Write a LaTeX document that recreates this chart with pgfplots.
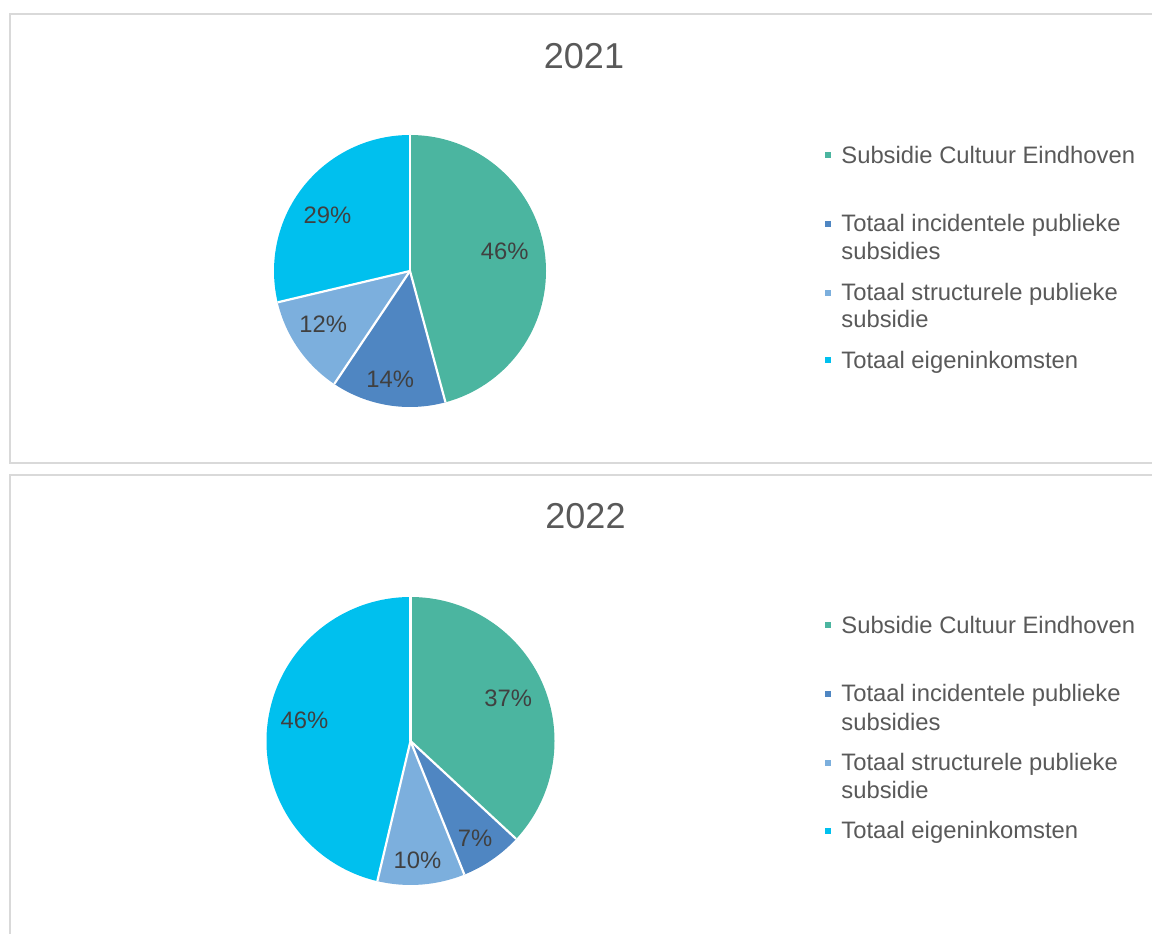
\documentclass[border=0pt]{standalone}
\usepackage{pgfplots}
\pgfplotsset{compat=1.18}
\usepackage{pgfplotstable}
\usepackage{fontspec}
\setmainfont{Liberation Sans}

\definecolor{cEhv}{HTML}{4BB5A0}
\definecolor{cInc}{HTML}{4F86C2}
\definecolor{cStr}{HTML}{7CAFDD}
\definecolor{cEig}{HTML}{00C0EE}
\colorlet{slice0}{cEhv}
\colorlet{slice1}{cInc}
\colorlet{slice2}{cStr}
\colorlet{slice3}{cEig}
\definecolor{lblgray}{HTML}{404040}
\definecolor{txtgray}{HTML}{595959}
\definecolor{framegray}{HTML}{D9D9D9}

% share in percent; label distance (fraction of radius) and angle shift
\pgfplotstableread{
share lbl dang
45.8 0.71  4
13.6 0.81 -1
11.9 0.75 -3
28.7 0.73  4.5
}\tblA
\pgfplotstableread{
share lbl dang
36.9 0.74  0
7.0 0.81  -1
9.8 0.83  -1
46.3 0.75 -4.5
}\tblB

% slice angles (clockwise from 12 o'clock), stored globally per prefix
\newcommand\prepie[2]{%
  \def\cum{0}%
  \pgfplotsforeachungrouped \i in {0,...,3}{%
    \pgfplotstablegetelem{\i}{share}\of#1\let\shr\pgfplotsretval
    \pgfplotstablegetelem{\i}{lbl}\of#1\let\fr\pgfplotsretval
    \pgfplotstablegetelem{\i}{dang}\of#1\let\dang\pgfplotsretval
    \pgfmathsetmacro\angS{90-3.6*\cum}%
    \pgfmathsetmacro\cum{\cum+\shr}%
    \pgfmathsetmacro\angE{90-3.6*\cum}%
    \pgfmathsetmacro\angM{(\angS+\angE)/2+\dang}%
    \pgfmathtruncatemacro\pc{round(\shr)}%
    \expandafter\xdef\csname#2a\i\endcsname{\angS}%
    \expandafter\xdef\csname#2b\i\endcsname{\angE}%
    \expandafter\xdef\csname#2m\i\endcsname{\angM}%
    \expandafter\xdef\csname#2f\i\endcsname{\fr}%
    \expandafter\xdef\csname#2p\i\endcsname{\pc}%
  }%
}
\prepie{\tblA}{pA}
\prepie{\tblB}{pB}

\newcommand\lblfont{\fontsize{11.9}{14}\selectfont}

\newcommand\drawpie[2]{%
  \pgfplotsinvokeforeach{0,...,3}{%
    \fill[slice##1] (axis cs:0,0) -- ++({\csname#1a##1\endcsname}:#2)
      arc[start angle=\csname#1a##1\endcsname, end angle=\csname#1b##1\endcsname, radius=#2] -- cycle;
  }%
  \pgfplotsinvokeforeach{0,...,3}{%
    \draw[white, line width=1.1pt] (axis cs:0,0) -- ++({\csname#1a##1\endcsname}:#2);
  }%
  \pgfplotsinvokeforeach{0,...,3}{%
    \path (axis cs:0,0) ++({\csname#1m##1\endcsname}:{\csname#1f##1\endcsname*#2})
      node[lblgray, font=\lblfont, inner sep=0pt] {\csname#1p##1\endcsname\%};
  }%
}

% legend: baseline (image px from top), colour, text
\newcommand\legline[2]{\node[txtgray, font=\lblfont, inner sep=0pt, anchor=base west] at (841,{933-(#1)}) {#2};}
\newcommand\legkey[2]{\fill[#2] (824.5,{933-(#1)+3}) rectangle ++(6,-6);}

\newcommand\legendblock[1]{% #1 = vertical offset in px
  \legkey{155.5+#1}{cEhv}\legline{163.3+#1}{Subsidie Cultuur Eindhoven}
  \legkey{224+#1}{cInc}\legline{231.7+#1}{Totaal incidentele publieke}
  \legline{260+#1}{subsidies}
  \legkey{293+#1}{cStr}\legline{300.7+#1}{Totaal structurele publieke}
  \legline{328+#1}{subsidie}
  \legkey{360.5+#1}{cEig}\legline{368.3+#1}{Totaal eigeninkomsten}
}

\begin{document}
\begin{tikzpicture}[x=0.5pt, y=0.5pt]
\useasboundingbox (0,0) rectangle (1152,933);
\clip (0,0) rectangle (1152,933);

% chart frames
\draw[framegray, line width=1pt] (1160,919) -- (9.5,919) -- (9.5,470) -- (1160,470);
\draw[framegray, line width=1pt] (1160,458) -- (9.5,458) -- (9.5,-10);

% titles
\node[txtgray, font=\fontsize{18}{21}\selectfont, anchor=base, inner sep=0pt] at (584,864.7) {2021};
\node[txtgray, font=\fontsize{18}{21}\selectfont, anchor=base, inner sep=0pt] at (585.5,404) {2022};

\begin{axis}[at={(205pt,331pt)}, anchor=center, scale only axis,
  width=136pt, height=136pt, xmin=-1, xmax=1, ymin=-1, ymax=1, hide axis]
  \drawpie{pA}{68pt}
\end{axis}

\begin{axis}[at={(205.25pt,96pt)}, anchor=center, scale only axis,
  width=144pt, height=144pt, xmin=-1, xmax=1, ymin=-1, ymax=1, hide axis]
  \drawpie{pB}{72pt}
\end{axis}

\legendblock{0}
\legendblock{470}
\end{tikzpicture}
\end{document}
